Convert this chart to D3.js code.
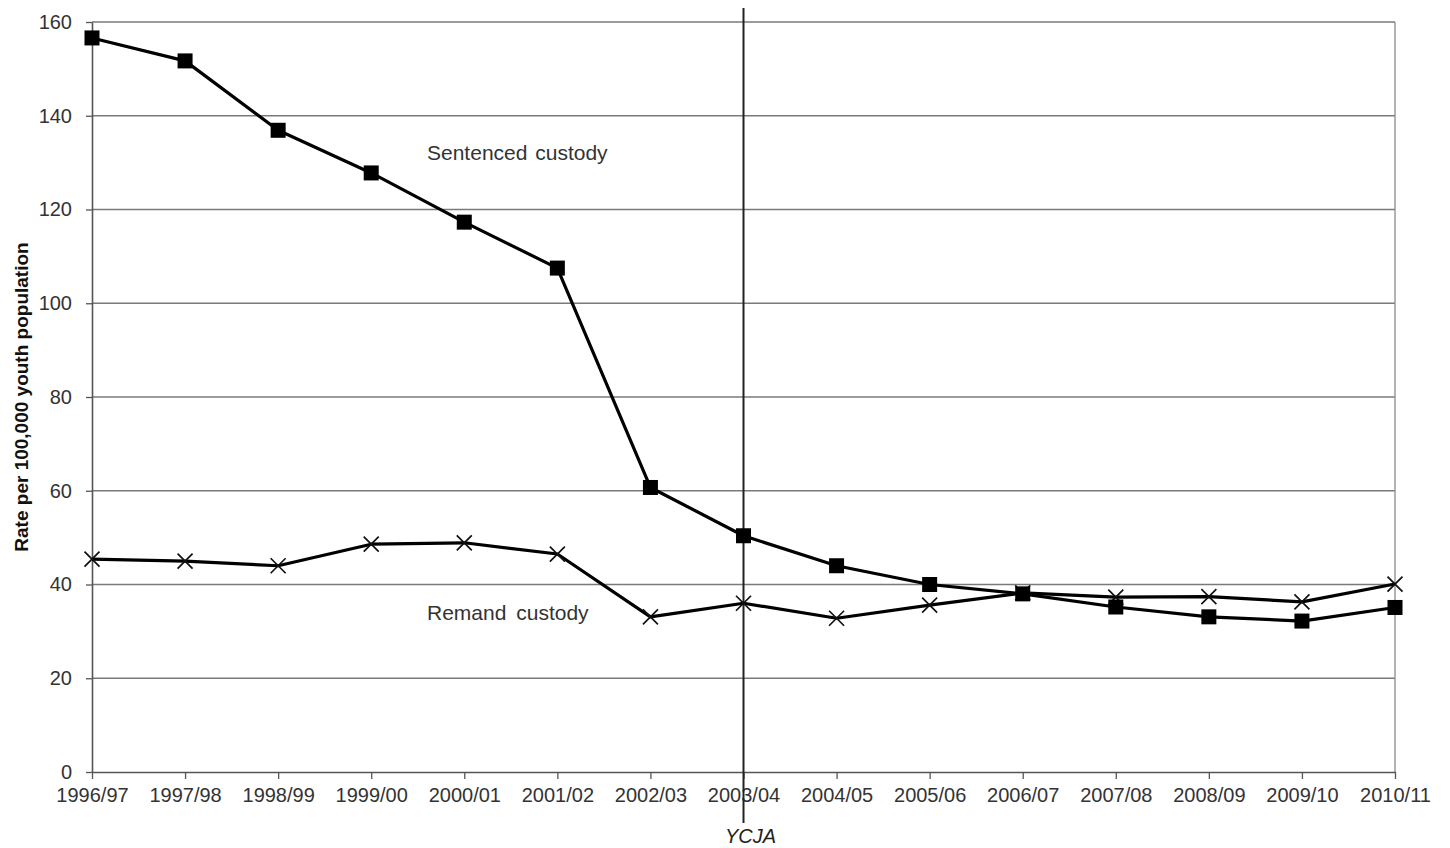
<!DOCTYPE html>
<html>
<head>
<meta charset="utf-8">
<script src="https://cdn.jsdelivr.net/npm/d3@7"></script>
<style>
  body { margin: 0; background: #fff; }
  svg { display: block; font-family: "Liberation Sans", Arial, sans-serif; }
</style>
</head>
<body>
<svg id="chart" width="1450" height="848"></svg>
<script>
const categories = ["1996/97","1997/98","1998/99","1999/00","2000/01","2001/02","2002/03","2003/04","2004/05","2005/06","2006/07","2007/08","2008/09","2009/10","2010/11"];
const sentenced = [156.6, 151.7, 136.9, 127.8, 117.3, 107.5, 60.7, 50.4, 44.0, 40.0, 38.0, 35.2, 33.1, 32.2, 35.1];
const remand = [45.4, 45.0, 44.0, 48.6, 48.9, 46.5, 33.1, 36.0, 32.8, 35.6, 38.2, 37.3, 37.4, 36.3, 40.1];
const yTicks = [0, 20, 40, 60, 80, 100, 120, 140, 160];
const yTitle = "Rate per 100,000 youth population";
const eventCategory = "2003/04";
const eventLabel = "YCJA";
const seriesLabels = ["Sentenced custody", "Remand custody"];

(function () {
const svg = d3.select("#chart");
const mL = 92, mR = 1395, mT = 22, mB = 772;

const x = d3.scalePoint().domain(categories).range([mL, mR]);
const y = d3.scaleLinear().domain([0, 160]).range([mB, mT]);

// gridlines
svg.append("g").selectAll("line").data(yTicks.filter(d => d > 0)).join("line")
  .attr("x1", mL).attr("x2", mR)
  .attr("y1", d => y(d)).attr("y2", d => y(d))
  .attr("stroke", "#7a7a7a").attr("stroke-width", 1.3);

// right border
svg.append("line").attr("x1", mR).attr("x2", mR).attr("y1", mT).attr("y2", mB)
  .attr("stroke", "#8a8a8a").attr("stroke-width", 1.3);

// y axis
const yAxis = d3.axisLeft(y).tickValues(yTicks).tickSize(6).tickPadding(14).tickSizeOuter(0);
const gy = svg.append("g").attr("transform", `translate(${mL},0)`).call(yAxis);
gy.select(".domain").attr("stroke", "#555").attr("stroke-width", 1.6);
gy.selectAll(".tick line").attr("stroke", "#555").attr("stroke-width", 1.3);
gy.selectAll(".tick text").attr("font-size", 20).attr("fill", "#333").attr("font-family", "Liberation Sans, Arial, sans-serif");

// x axis
const xAxis = d3.axisBottom(x).tickSize(7).tickPadding(9).tickSizeOuter(0);
const gx = svg.append("g").attr("transform", `translate(0,${mB})`).call(xAxis);
gx.select(".domain").attr("stroke", "#555").attr("stroke-width", 1.6);
gx.selectAll(".tick line").attr("stroke", "#555").attr("stroke-width", 1.3);
gx.selectAll(".tick text").attr("font-size", 20).attr("fill", "#333").attr("font-family", "Liberation Sans, Arial, sans-serif");

// y title
svg.append("text")
  .attr("transform", `translate(28,${397}) rotate(-90)`)
  .attr("text-anchor", "middle")
  .attr("font-size", 19).attr("font-weight", "bold").attr("fill", "#111")
  .text(yTitle);

// event line
const ex = x(eventCategory);
svg.append("line").attr("x1", ex).attr("x2", ex).attr("y1", 8).attr("y2", 823)
  .attr("stroke", "#222").attr("stroke-width", 2);
svg.append("text").attr("x", ex + 7).attr("y", 843)
  .attr("text-anchor", "middle").attr("font-size", 20).attr("font-style", "italic").attr("fill", "#222")
  .text(eventLabel);

const line = d3.line().x((d, i) => x(categories[i])).y(d => y(d));

// remand series
svg.append("path").datum(remand).attr("d", line)
  .attr("fill", "none").attr("stroke", "#000").attr("stroke-width", 3.2).attr("stroke-linejoin", "round");
const s = 7.5;
svg.append("g").selectAll("path").data(remand).join("path")
  .attr("d", (d, i) => {
    const cx = x(categories[i]), cy = y(d);
    return `M${cx - s},${cy - s}L${cx + s},${cy + s}M${cx - s},${cy + s}L${cx + s},${cy - s}`;
  })
  .attr("stroke", "#111").attr("stroke-width", 1.7).attr("fill", "none");

// sentenced series
svg.append("path").datum(sentenced).attr("d", line)
  .attr("fill", "none").attr("stroke", "#000").attr("stroke-width", 3.2).attr("stroke-linejoin", "round");
const sq = 15;
svg.append("g").selectAll("rect").data(sentenced).join("rect")
  .attr("x", (d, i) => x(categories[i]) - sq / 2)
  .attr("y", d => y(d) - sq / 2)
  .attr("width", sq).attr("height", sq)
  .attr("fill", "#000");

// series labels
svg.append("text").attr("x", 427).attr("y", 160).attr("font-size", 21).attr("fill", "#333")
  .attr("word-spacing", 2)
  .text(seriesLabels[0]);
svg.append("text").attr("x", 427).attr("y", 620).attr("font-size", 21).attr("fill", "#333")
  .attr("word-spacing", 4)
  .text(seriesLabels[1]);
})();
</script>
</body>
</html>
